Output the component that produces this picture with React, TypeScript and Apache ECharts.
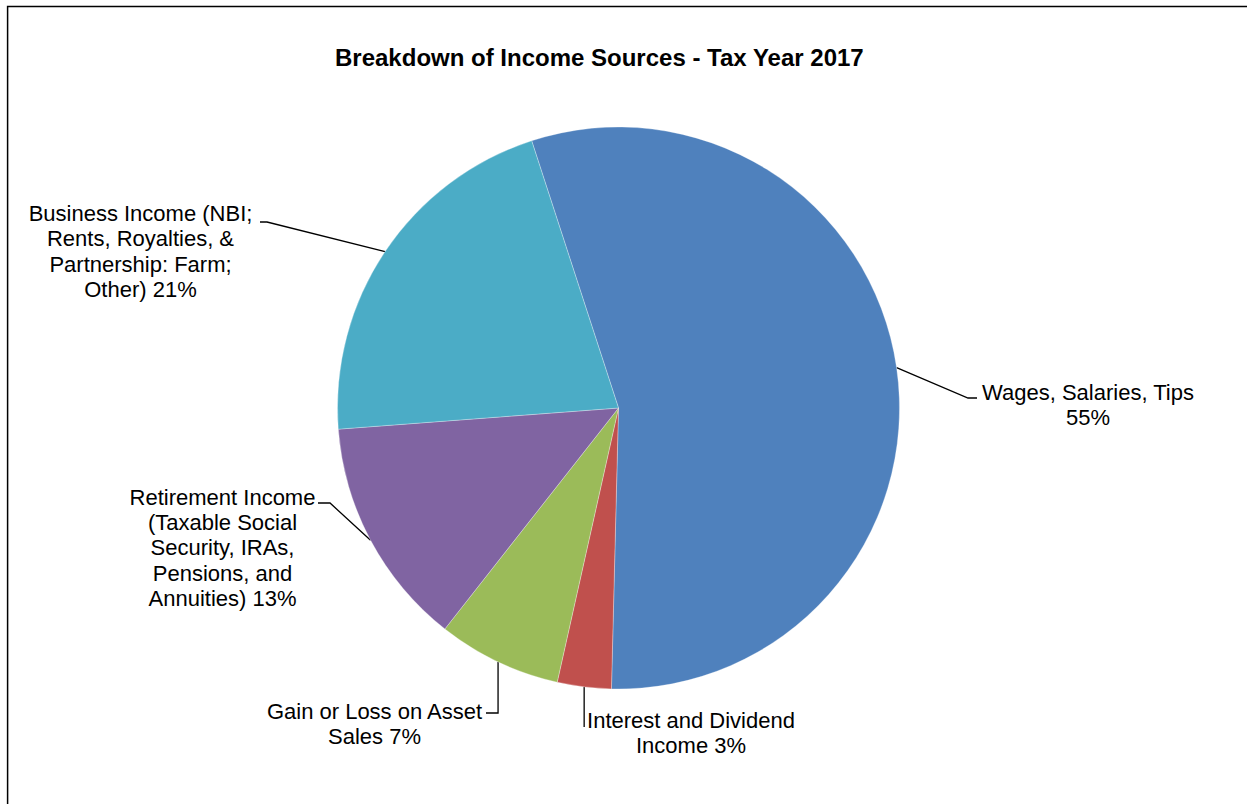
import React, { useEffect, useRef } from "react";
import * as echarts from "echarts";

const chartTitle = "Breakdown of Income Sources - Tax Year 2017";
const categories = [
  "Wages, Salaries, Tips",
  "Interest and Dividend Income",
  "Gain or Loss on Asset Sales",
  "Retirement Income (Taxable Social Security, IRAs, Pensions, and Annuities)",
  "Business Income (NBI; Rents, Royalties, & Partnership: Farm; Other)",
];
const shares = [55.4, 3.1, 7.1, 13.2, 21.2];
const labelTemplates = [
  "Wages, Salaries, Tips\n{p}",
  "Interest and Dividend\nIncome {p}",
  "Gain or Loss on Asset\nSales {p}",
  "Retirement Income\n(Taxable Social\nSecurity, IRAs,\nPensions, and\nAnnuities) {p}",
  "Business Income (NBI;\nRents, Royalties, &\nPartnership: Farm;\nOther) {p}",
];
const sliceColors = ["#4F81BD", "#C0504D", "#9BBB59", "#8064A2", "#4BACC6"];

// layout
const CX = 618.5;
const CY = 408;
const R = 281;
const START_CW_FROM_TOP = -18; // degrees, clockwise from 12 o'clock
const FONT = "'Liberation Sans', Arial, Helvetica, sans-serif";

type Anchor = { x: number; y: number; leader: (p0: number[]) => number[][] };
const anchors: Anchor[] = [
  { x: 1088, y: 379.5, leader: (p) => [p, [968, 398], [977, 398]] },
  { x: 691, y: 707.5, leader: (p) => [p, [p[0], 727]] },
  { x: 374.5, y: 698.5, leader: (p) => [p, [p[0], 713], [486, 713]] },
  { x: 222.5, y: 484.5, leader: (p) => [p, [330, 503], [318, 503]] },
  { x: 140.5, y: 201, leader: (p) => [p, [267, 222], [260, 222]] },
];

function midEdgePoint(index: number): number[] {
  const total = shares.reduce((a, b) => a + b, 0);
  let cum = 0;
  for (let i = 0; i < index; i++) cum += shares[i];
  const mid = cum + shares[index] / 2;
  const theta = ((START_CW_FROM_TOP + (mid / total) * 360) * Math.PI) / 180;
  return [CX + R * Math.sin(theta), CY - R * Math.cos(theta)];
}

export default function App() {
  const ref = useRef<HTMLDivElement>(null);
  useEffect(() => {
    if (!ref.current) return;
    const chart = echarts.init(ref.current, null, { renderer: "svg" });
    chart.setOption({
      animation: false,
      backgroundColor: "#ffffff",
      title: {
        text: chartTitle,
        left: 335,
        top: 45.5,
        padding: 0,
        textStyle: {
          fontFamily: FONT,
          fontSize: 24,
          fontWeight: "bold",
          color: "#000000",
          lineHeight: 24,
        },
      },
      graphic: [
        {
          type: "rect",
          silent: true,
          z: -10,
          shape: { x: 7.6, y: 6.5, width: 1500, height: 1200 },
          style: { fill: "none", stroke: "#000000", lineWidth: 1.5 },
        },
      ],
      series: [
        {
          type: "pie",
          center: [CX, CY],
          radius: R,
          startAngle: 90 - START_CW_FROM_TOP,
          clockwise: true,
          avoidLabelOverlap: false,
          silent: true,
          itemStyle: { borderColor: "#ffffff", borderWidth: 0.3 },
          data: categories.map((name, i) => ({
            name,
            value: shares[i],
            itemStyle: { color: sliceColors[i] },
          })),
          label: {
            show: true,
            position: "outside",
            color: "#000000",
            fontFamily: FONT,
            fontSize: 22,
            lineHeight: 25.3,
            align: "center",
            formatter: (p: any) =>
              labelTemplates[p.dataIndex].replace("{p}", Math.round(p.percent) + "%"),
          },
          labelLine: {
            show: true,
            smooth: false,
            lineStyle: { color: "#000000", width: 1.3 },
          },
          labelLayout: (params: any) => {
            const i = params.dataIndex;
            const a = anchors[i];
            const p0 = midEdgePoint(i);
            return {
              x: a.x,
              y: a.y,
              align: "center",
              verticalAlign: "top",
              labelLinePoints: a.leader(p0),
            };
          },
        },
      ],
    });
    return () => chart.dispose();
  }, []);
  return (
    <div
      ref={ref}
      style={{ position: "fixed", left: 0, top: 0, width: 1247, height: 804 }}
    />
  );
}
